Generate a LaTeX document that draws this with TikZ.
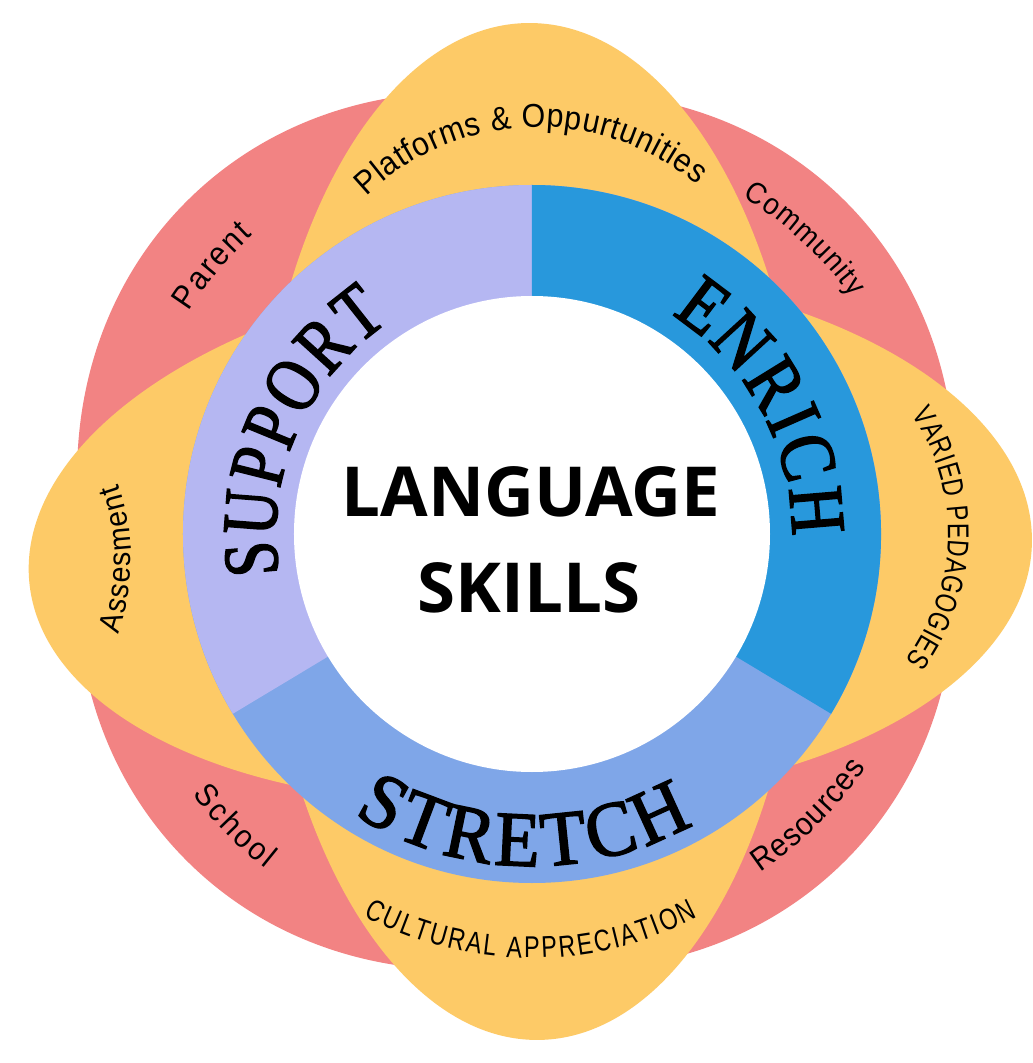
\documentclass[tikz,border=0pt]{standalone}
\usepackage{fontspec}
\usetikzlibrary{decorations.text}
\newfontfamily\centerfont{Open Sans}
\newfontfamily\ringS[FakeStretch=0.8,FakeBold=2]{Liberation Serif}
\newfontfamily\ringE[FakeStretch=0.85,FakeBold=2]{Liberation Serif}
\newfontfamily\ringT[FakeStretch=0.95,FakeBold=2]{Liberation Serif}
\newfontfamily\hand[FakeStretch=0.92]{Liberation Sans}
\newfontfamily\handcaps[FakeStretch=0.78]{Liberation Sans}
\definecolor{redc}{HTML}{F28383}
\definecolor{yel}{HTML}{FDCA67}
\definecolor{supportc}{HTML}{B5B7F2}
\definecolor{enrichc}{HTML}{2898DC}
\definecolor{stretchc}{HTML}{7FA6E8}
\tikzset{
  curvetext/.style={decorate, decoration={text along path, text align={fit to path=true}, text={#1}}},
  petal/.style={fill=yel},
  leaf/.style={fill=redc},
}
\begin{document}
\begin{tikzpicture}[x=1pt,y=1pt]
\useasboundingbox (-532,-529) rectangle (501,534);
\fill[white] (-532,-529) rectangle (501,534);
% red leaves
\path[leaf, shift={(-16,3)}, rotate=45] (0,0) ellipse [x radius=466, y radius=410];
\path[leaf, shift={(-16,3)}, rotate=-45] (0,0) ellipse [x radius=466, y radius=410];
% yellow petals
\path[petal, rotate=90.4] (0,-275.5) arc[start angle=-90,end angle=90,x radius=511,y radius=275.5] -- cycle;
\path[petal, rotate=-1] (0,-267) arc[start angle=-90,end angle=90,x radius=500,y radius=267] -- cycle;
\path[petal, rotate=270.8] (0,-271) arc[start angle=-90,end angle=90,x radius=506,y radius=271] -- cycle;
\path[petal, rotate=185.5] (0,-266) arc[start angle=-90,end angle=90,x radius=505,y radius=266] -- cycle;
% ring
\fill[stretchc] (0,0) circle[radius=349];
\fill[supportc] (0,0) -- (90:349) arc[start angle=90,end angle=211,radius=349] -- cycle;
\fill[enrichc] (0,0) -- (-31:349) arc[start angle=-31,end angle=90,radius=349] -- cycle;
\fill[white] (0,0) circle[radius=238];
% centre
\node[font=\centerfont\bfseries\fontsize{69}{69}\selectfont, anchor=base, inner sep=0pt] (lang) at (-1,17) {LANGUAGE};
\node[font=\centerfont\bfseries\fontsize{69}{69}\selectfont, anchor=base, inner sep=0pt] (skills) at (-3,-78) {SKILLS};
% ring words
\path[curvetext={|\ringS\fontsize{78}{78}\selectfont|SUPPORT}] (189:256) arc[start angle=189,end angle=124,radius=256];
\path[curvetext={|\ringE\fontsize{78}{78}\selectfont|ENRICH}] (57.5:260) arc[start angle=57.5,end angle=-0.5,radius=260];
\path[curvetext={|\ringT\fontsize{78}{78}\selectfont|STRETCH}] (237.6:332) arc[start angle=237.6,end angle=299.1,radius=332];
% outer labels
\path[curvetext={|\hand\fontsize{33}{33}\selectfont|Platforms {\&} Oppurtunities}] ([shift={(134:247)}]6,160) arc[start angle=134,end angle=50,radius=247];
\path[curvetext={|\hand\fontsize{33}{33}\selectfont|Parent}] (147:409) arc[start angle=147,end angle=133,radius=409];
\path[curvetext={|\hand\fontsize{30}{30}\selectfont|Community}] (58:398) arc[start angle=58,end angle=36.5,radius=398];
\path[curvetext={|\handcaps\fontsize{30}{30}\selectfont|VARIED PEDAGOGIES}] ([shift={(34:212)}]204,1) arc[start angle=34,end angle=-37,radius=212];
\path[curvetext={|\hand\fontsize{32}{32}\selectfont|Resources}] (-56:408) arc[start angle=-56,end angle=-35,radius=408];
\path[curvetext={|\hand\fontsize{32}{32}\selectfont|School}] (217.5:428) arc[start angle=217.5,end angle=231.5,radius=428];
\path[curvetext={|\hand\fontsize{31}{31}\selectfont|Assesment}] ([shift={(-19:231)}]-632,-25) arc[start angle=-19,end angle=19,radius=231];
\path[curvetext={|\handcaps\fontsize{30}{30}\selectfont|CULTURAL APPRECIATION}] ([shift={(242:359)}]0,-65) arc[start angle=242,end angle=297.5,radius=359];
\end{tikzpicture}
\end{document}
